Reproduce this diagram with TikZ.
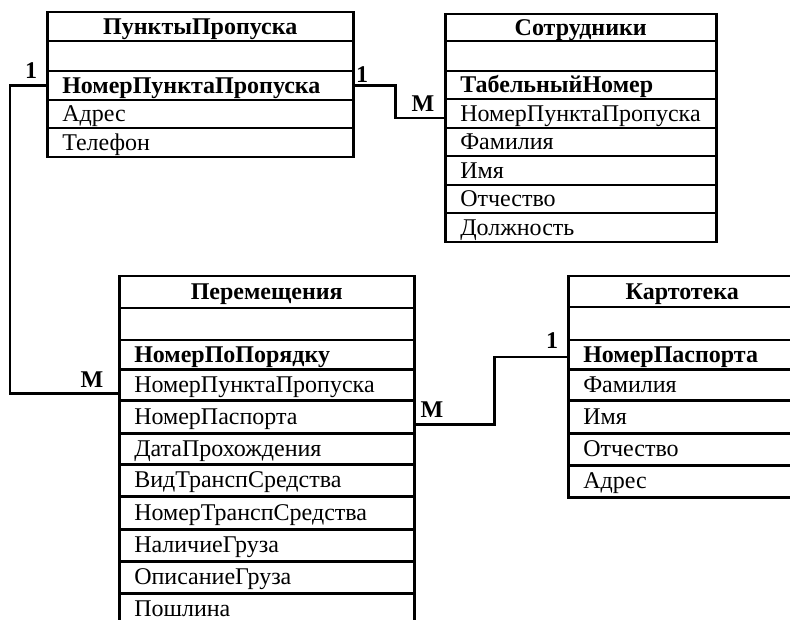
\documentclass[tikz,border=0pt]{standalone}
\usepackage{fontspec}
\setmainfont{Liberation Serif}
\begin{document}
\begin{tikzpicture}[x=1pt,y=-1pt,
  cell/.style={draw, line width=2.5pt, anchor=north west, inner xsep=15pt, inner ysep=0pt,
    text height=18pt, text depth=3pt, align=left, font=\fontsize{24}{28}\selectfont},
  titlecell/.style={cell, align=center, font=\fontsize{24}{28}\selectfont\bfseries},
  conn/.style={draw, line width=2.5pt, line join=miter},
  lab/.style={inner sep=0pt, font=\fontsize{24}{28}\selectfont\bfseries}]
\useasboundingbox[fill=white] (0,0) rectangle (790,620);

% ПунктыПропуска
\node[titlecell, minimum width=306pt, text width=276pt, minimum height=29pt] (p1) at (46,11) {ПунктыПропуска};
\foreach \n/\yt/\h/\t in {2/40/30/{}, 3/70/29/{\bfseries НомерПунктаПропуска}, 4/99/28/{Адрес}, 5/127/29/{Телефон}}
  \node[cell, minimum width=306pt, text width=276pt, minimum height=\h pt] (p\n) at (46,\yt) {\t};

% Сотрудники
\node[titlecell, minimum width=271pt, text width=241pt, minimum height=27pt] (s1) at (444,13) {Сотрудники};
\foreach \n/\yt/\h/\t in {2/40/30/{}, 3/70/28/{\bfseries ТабельныйНомер}, 4/98/29/{НомерПунктаПропуска},
  5/127/28/{Фамилия}, 6/155/29/{Имя}, 7/184/28/{Отчество}, 8/212/29/{Должность}}
  \node[cell, minimum width=271pt, text width=241pt, minimum height=\h pt] (s\n) at (444,\yt) {\t};

% Перемещения
\node[titlecell, minimum width=295pt, text width=265pt, minimum height=32pt] (m1) at (118,275) {Перемещения};
\foreach \n/\yt/\h/\t in {2/307/32/{}, 3/339/29/{\bfseries НомерПоПорядку}, 4/368/31/{НомерПунктаПропуска},
  5/399/33/{НомерПаспорта}, 6/432/31/{ДатаПрохождения}, 7/463/32/{ВидТранспСредства},
  8/495/33/{НомерТранспСредства}, 9/528/32/{НаличиеГруза}, 10/560/32/{ОписаниеГруза}, 11/592/32/{Пошлина}}
  \node[cell, minimum width=295pt, text width=265pt, minimum height=\h pt] (m\n) at (118,\yt) {\t};

% Картотека
\node[titlecell, minimum width=228pt, text width=198pt, minimum height=31pt] (k1) at (567,275) {Картотека};
\foreach \n/\yt/\h/\t in {2/306/33/{}, 3/339/29/{\bfseries НомерПаспорта}, 4/368/31/{Фамилия},
  5/399/33/{Имя}, 6/432/32/{Отчество}, 7/464/32/{Адрес}}
  \node[cell, minimum width=228pt, text width=198pt, minimum height=\h pt] (k\n) at (567,\yt) {\t};

% connectors
\draw[conn] (p3.west) -- ++(-36,0) |- ([yshift=-8.5pt]m4.west);
\draw[conn] (p3.east) -- ++(41,0) |- ([yshift=-4.5pt]s4.west);
\draw[conn] ([yshift=-7.5pt]m5.east) -- ++(79,0) |- ([yshift=-2.5pt]k3.west);

% labels
\node[lab] (l1) at (31,71) {1};
\node[lab] (l2) at (362,75) {1};
\node[lab] (l3) at (423,104) {М};
\node[lab] (l4) at (92,380) {М};
\node[lab] (l5) at (432,410) {М};
\node[lab] (l6) at (552,341) {1};
\end{tikzpicture}
\end{document}
